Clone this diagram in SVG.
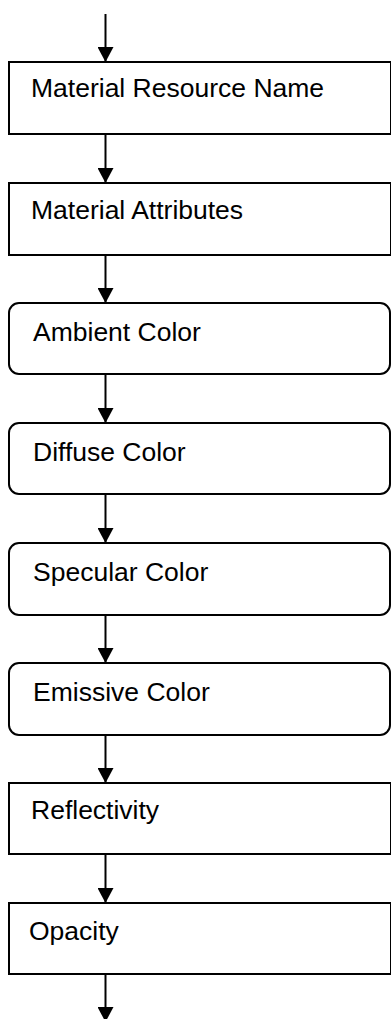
<svg xmlns="http://www.w3.org/2000/svg" width="391" height="1019" viewBox="0 0 391 1019">
<style>
.box{fill:#fff;stroke:#000;stroke-width:2}
.lbl{font-family:"Liberation Sans",Arial,sans-serif;font-size:26.5px;fill:#000}
.conn line{stroke:#000;stroke-width:2}
</style>
<defs>
<marker id="ah" markerWidth="15" markerHeight="16" refX="15" refY="8" orient="auto" markerUnits="userSpaceOnUse" viewBox="0 0 15 16">
<path d="M0,0 L15,8 L0,16 Z" fill="#000"/>
</marker>
</defs>
<rect width="391" height="1019" fill="#fff"/>
<g class="conn">
<line x1="105.5" y1="14" x2="105.5" y2="62" marker-end="url(#ah)"/>
<line x1="105.5" y1="134" x2="105.5" y2="183" marker-end="url(#ah)"/>
<line x1="105.5" y1="255" x2="105.5" y2="303" marker-end="url(#ah)"/>
<line x1="105.5" y1="374" x2="105.5" y2="423" marker-end="url(#ah)"/>
<line x1="105.5" y1="494" x2="105.5" y2="543" marker-end="url(#ah)"/>
<line x1="105.5" y1="615" x2="105.5" y2="663" marker-end="url(#ah)"/>
<line x1="105.5" y1="735" x2="105.5" y2="783" marker-end="url(#ah)"/>
<line x1="105.5" y1="854" x2="105.5" y2="903" marker-end="url(#ah)"/>
<line x1="105.5" y1="974" x2="105.5" y2="1022" marker-end="url(#ah)"/>
</g>
<g id="n1"><rect class="box" x="9" y="62" width="382" height="72"/><text class="lbl" x="31" y="97">Material Resource Name</text></g>
<g id="n2"><rect class="box" x="9" y="183" width="382" height="72"/><text class="lbl" x="31" y="219">Material Attributes</text></g>
<g id="n3"><rect class="box" x="9" y="303" width="381" height="71" rx="10"/><text class="lbl" x="33" y="341">Ambient Color</text></g>
<g id="n4"><rect class="box" x="9" y="423" width="381" height="71" rx="10"/><text class="lbl" x="33" y="461">Diffuse Color</text></g>
<g id="n5"><rect class="box" x="9" y="543" width="381" height="72" rx="10"/><text class="lbl" x="33" y="581">Specular Color</text></g>
<g id="n6"><rect class="box" x="9" y="663" width="381" height="72" rx="10"/><text class="lbl" x="33" y="701">Emissive Color</text></g>
<g id="n7"><rect class="box" x="9" y="783" width="382" height="71"/><text class="lbl" x="31" y="819">Reflectivity</text></g>
<g id="n8"><rect class="box" x="9" y="903" width="382" height="71"/><text class="lbl" x="29" y="940">Opacity</text></g>
</svg>
